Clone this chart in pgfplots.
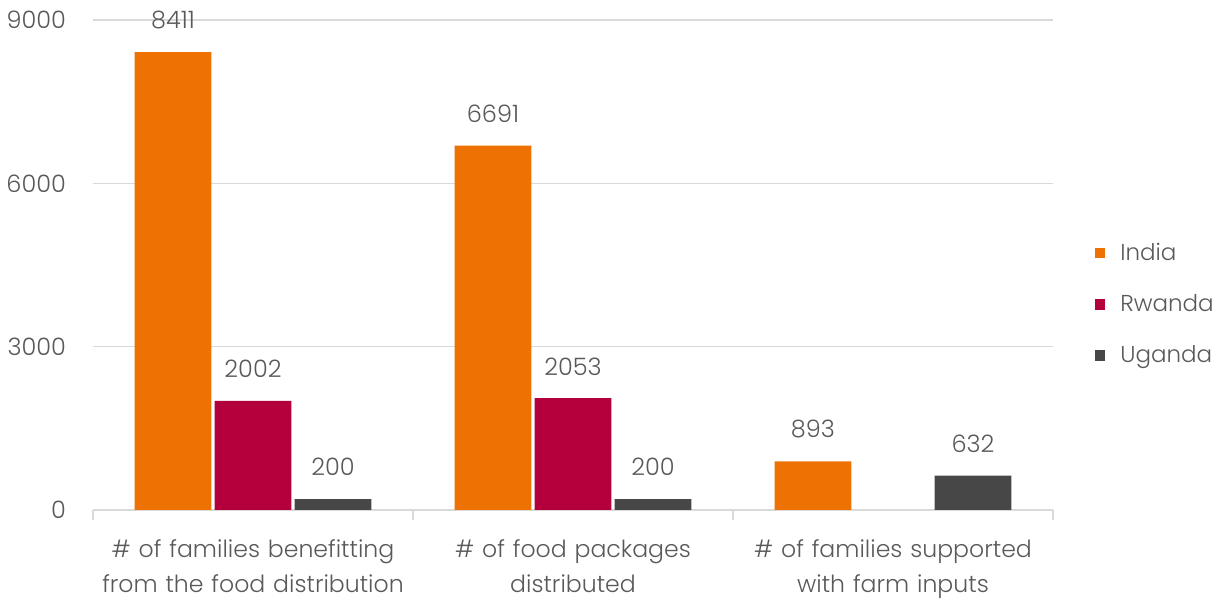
\documentclass[border=0pt]{standalone}
\usepackage{pgfplots}
\pgfplotsset{compat=1.18}
\usepackage{fontspec}
\setmainfont{Poppins}[UprightFont={* Light}]
\definecolor{indiaor}{HTML}{EE7203}
\definecolor{rwred}{HTML}{B3003C}
\definecolor{ugray}{HTML}{474747}
\definecolor{textgray}{HTML}{595959}
\definecolor{gridgray}{HTML}{D9D9D9}
\begin{document}
\begin{tikzpicture}
\begin{axis}[
  name=ax,
  scale only axis, width=480pt, height=245pt,
  ybar, bar width=0.24,
  xmin=-0.5, xmax=2.5, ymin=0, ymax=9000,
  axis x line*=bottom, axis y line*=left,
  x axis line style={draw=gridgray, line width=1pt},
  y axis line style={draw=none},
  ytick={0,3000,6000,9000},
  ytick style={draw=none},
  ymajorgrids, grid style={draw=gridgray, line width=0.7pt},
  xtick={0,1,2},
  xticklabels={{\# of families benefitting\\from the food distribution},{\# of food packages\\distributed},{\# of families supported\\with farm inputs}},
  minor xtick={-0.5,0.5,1.5,2.5},
  major tick length=0pt, minor tick length=5pt,
  tick align=outside,
  minor x tick style={draw=gridgray, line width=1pt},
  xmajorgrids=false,
  /pgf/number format/assume math mode=true,
  /pgf/number format/1000 sep={},
  ticklabel style={font=\fontsize{12}{17.5}\selectfont, text=textgray},
  xticklabel style={align=center, text width=180pt, yshift=-11.5pt, font=\fontsize{11.8}{17.5}\selectfont},
  yticklabel style={xshift=-10pt},
  nodes near coords,
  every node near coord/.append style={font=\fontsize{12}{14}\selectfont, text=textgray, yshift=8pt},
  legend style={at={(1.037,0.42)}, anchor=west, draw=none, fill=none,
    font=\fontsize{11.5}{14}\selectfont, text=textgray, row sep=11.6pt},
  legend cell align=left,
  legend image code/.code={\fill[#1] (0pt,-2.6pt) rectangle (5.2pt,2.6pt); \path[draw=none,fill=none] (0pt,0pt) -- (10.7pt,0pt);},
]
\addplot[fill=indiaor, draw=none, bar shift=-0.25] coordinates {(0,8411) (1,6691) (2,893)};
\addplot[fill=rwred, draw=none, bar shift=0] coordinates {(0,2002) (1,2053)};
\addplot[fill=ugray, draw=none, bar shift=0.25] coordinates {(0,200) (1,200) (2,632)};
\legend{India, Rwanda, Uganda}
\end{axis}
\pgfresetboundingbox
\path[use as bounding box] ([xshift=-46.5pt,yshift=-45.5pt]ax.south west) rectangle ([xshift=86.5pt,yshift=10pt]ax.north east);
\end{tikzpicture}
\end{document}
